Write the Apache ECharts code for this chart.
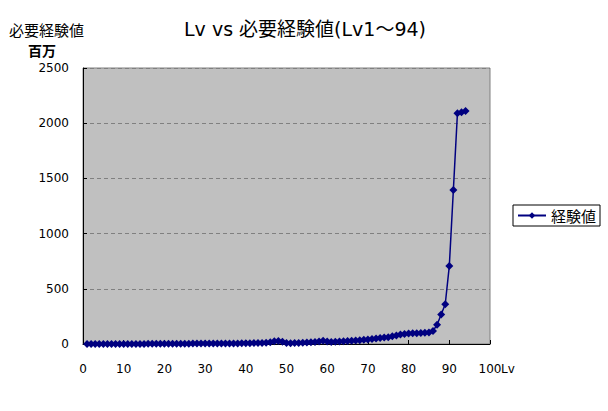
<!DOCTYPE html>
<html><head><meta charset="utf-8">
<script src="https://cdn.jsdelivr.net/npm/echarts@6/dist/echarts.min.js"></script>
<style>html,body{margin:0;padding:0;background:#fff}#c{width:608px;height:411px}</style>
</head><body><div id="c"></div>
<script>
const titleText = "Lv vs 必要経験値(Lv1～94)";
const yAxisTitle = "必要経験値";
const yUnit = "百万";
const seriesName = "経験値";
const xName = "Lv";
const levels = Array.from({length: 94}, (_, i) => i + 1);
const expMillions = [
  0.01,0.02,0.04,0.06,0.1,0.15,0.2,0.3,0.4,0.5,
  0.6,0.7,0.8,0.9,1.0,1.2,1.4,1.6,1.8,2.0,
  2.2,2.4,2.6,2.8,3.0,3.2,3.4,3.6,3.8,4.0,
  4.2,4.4,4.6,4.8,5.0,5.2,5.4,5.6,5.8,6.0,
  7,8,9,10,12,15,25,28,20,8,
  6,8,10,12,14,16,18,22,30,22,
  18,20,22,25,28,30,32,35,38,40,
  45,50,55,58,62,70,78,85,90,95,
  97,98,100,102,105,118,175,268,360,706,
  1395,2090,2100,2110
];
const font = '"DejaVu Sans", "Noto Sans CJK JP", sans-serif';
const cjk = '"Noto Sans CJK JP", sans-serif';
const chart = echarts.init(document.getElementById('c'), null, {renderer: 'svg'});
chart.setOption({
  animation: false,
  backgroundColor: '#ffffff',
  textStyle: {fontFamily: font},
  title: [
    {text: titleText, left: 305, top: 19, textAlign: 'center', padding: 0,
     textStyle: {fontFamily: font, fontSize: 19, fontWeight: 'normal', color: '#000', lineHeight: 20}},
    {text: yAxisTitle, left: 9, top: 21, padding: 0,
     textStyle: {fontFamily: cjk, fontSize: 15, fontWeight: 'normal', color: '#000', lineHeight: 16}},
    {text: yUnit, left: 28, top: 42, padding: 0,
     textStyle: {fontFamily: cjk, fontSize: 14, fontWeight: 'bold', color: '#000', lineHeight: 15}}
  ],
  legend: {
    left: 513, top: 205, orient: 'vertical',
    data: [seriesName],
    itemWidth: 28, itemHeight: 8, itemGap: 0,
    borderColor: '#000', borderWidth: 1, padding: [3, 4, 3, 4],
    textStyle: {fontFamily: cjk, fontSize: 15, color: '#000'}
  },
  grid: {left: 83, right: 118, top: 68, bottom: 67, show: true,
         backgroundColor: '#c0c0c0', borderColor: '#808080', borderWidth: 1},
  xAxis: {
    type: 'value', min: 0, max: 100, interval: 10,
    name: xName, nameLocation: 'end', nameGap: 11, nameMoveOverlap: false,
    nameTextStyle: {fontFamily: font, fontSize: 12, color: '#000', verticalAlign: 'top', padding: [19, 0, 0, 0]},
    axisLine: {show: true, onZero: false, lineStyle: {color: '#000', width: 1}},
    axisTick: {show: true, inside: true, length: 4, lineStyle: {color: '#000'}},
    axisLabel: {fontFamily: font, fontSize: 12, color: '#000', margin: 19},
    splitLine: {show: false}
  },
  yAxis: {
    type: 'value', min: 0, max: 2500, interval: 500,
    axisLine: {show: true, lineStyle: {color: '#000', width: 1}},
    axisTick: {show: true, inside: true, length: 4, lineStyle: {color: '#000'}},
    axisLabel: {fontFamily: font, fontSize: 12, color: '#000', margin: 14,
                formatter: v => String(v)},
    splitLine: {show: true, lineStyle: {color: '#808080', type: [4, 3], width: 1}}
  },
  series: [{
    name: seriesName, type: 'line',
    data: levels.map((lv, i) => [lv, expMillions[i]]),
    symbol: 'diamond', symbolSize: 8,
    lineStyle: {color: '#000080', width: 1.5},
    itemStyle: {color: '#000080'}
  }]
});
</script></body></html>
